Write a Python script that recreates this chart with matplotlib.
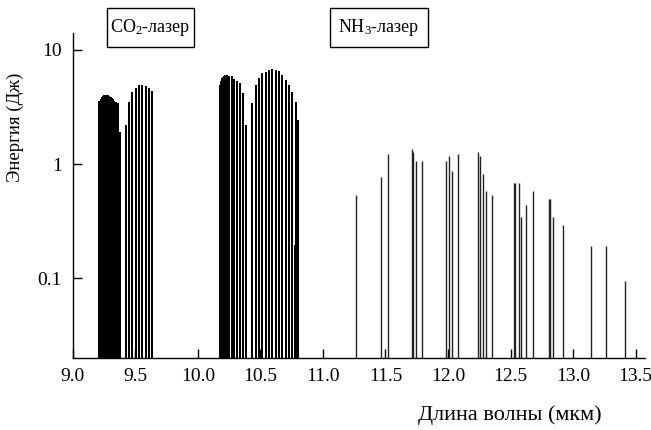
import numpy as np
import matplotlib
matplotlib.use("Agg")
import matplotlib.pyplot as plt
from matplotlib.patches import Rectangle

plt.rcParams['font.family'] = ['Liberation Serif', 'DejaVu Serif']
plt.rcParams['mathtext.fontset'] = 'custom'
plt.rcParams['mathtext.rm'] = 'Liberation Serif'
plt.rcParams['mathtext.it'] = 'Liberation Serif:italic'

# CO2 laser lines (wavelength in um, energy in J)
co2_9r_wl = [9.212, 9.222, 9.232, 9.242, 9.252, 9.262, 9.272, 9.282, 9.292,
             9.302, 9.312, 9.322, 9.332, 9.342, 9.352, 9.360, 9.376]
co2_9r_en = [3.6, 3.75, 3.85, 3.95, 4.0, 4.03, 4.03, 4.0, 3.95,
             3.9, 3.8, 3.7, 3.6, 3.5, 3.45, 3.4, 1.9]

co2_9p_wl = [9.422, 9.448, 9.474, 9.501, 9.528, 9.554, 9.581, 9.608, 9.634]
co2_9p_en = [2.2, 3.5, 4.3, 4.6, 4.9, 4.95, 4.8, 4.6, 4.4]

co2_10r_wl = [10.176, 10.184, 10.192, 10.200, 10.208, 10.216, 10.224, 10.232,
              10.250, 10.270, 10.290, 10.310, 10.336, 10.362, 10.382]
co2_10r_en = [4.9, 5.4, 5.7, 5.85, 5.95, 6.0, 6.04, 6.0,
              5.95, 5.9, 5.6, 5.3, 5.17, 4.17, 2.2]

co2_10p_wl = [10.434, 10.461, 10.488, 10.514, 10.541, 10.568, 10.594, 10.621,
              10.648, 10.674, 10.701, 10.728, 10.754, 10.781, 10.802, 10.776]
co2_10p_en = [3.4, 4.93, 5.64, 6.24, 6.44, 6.68, 6.78, 6.68,
              6.53, 6.04, 5.46, 4.93, 4.3, 3.5, 2.43, 0.195]

# NH3 laser lines
nh3_wl = [11.262, 11.461, 11.523, 11.709, 11.720, 11.747, 11.795, 11.984,
          12.006, 12.030, 12.078, 12.243, 12.253, 12.280, 12.302, 12.352,
          12.525, 12.536, 12.565, 12.587, 12.621, 12.683, 12.808, 12.818,
          12.843, 12.917, 13.144, 13.261, 13.416]
nh3_en = [0.535, 0.774, 1.22, 1.354, 1.28, 1.07, 1.07, 1.07,
          1.175, 0.874, 1.22, 1.28, 1.175, 0.817, 0.583, 0.535,
          0.686, 0.686, 0.686, 0.341, 0.434, 0.583, 0.49, 0.49,
          0.341, 0.294, 0.192, 0.192, 0.094]

x_ticks = [9.0, 9.5, 10.0, 10.5, 11.0, 11.5, 12.0, 12.5, 13.0, 13.5]
y_ticks = [0.1, 1, 10]
y_tick_labels = ['0.1', '1', '10']

y_bottom = 0.0199
y_top = 14.1

W, H = 651, 430
fig = plt.figure(figsize=(6.51, 4.30), dpi=100)
ax = fig.add_axes([0.1121, 0.1674, 0.8787, 0.7559])

# CO2 lines are thick and packed, NH3 lines thin
for wl, en in [(co2_9r_wl, co2_9r_en), (co2_9p_wl, co2_9p_en),
               (co2_10r_wl, co2_10r_en), (co2_10p_wl, co2_10p_en)]:
    ax.vlines(wl, y_bottom, en, colors='black', linewidth=1.45)
ax.vlines(nh3_wl, y_bottom, nh3_en, colors='#222222', linewidth=1.0)

ax.set_yscale('log')
ax.set_xlim(9.0, 13.576)
ax.set_ylim(y_bottom, y_top)

ax.set_xticks(x_ticks)
ax.set_xticklabels(['%.1f' % t for t in x_ticks])
ax.set_yticks(y_ticks)
ax.set_yticklabels(y_tick_labels)
ax.yaxis.set_minor_locator(matplotlib.ticker.NullLocator())
ax.tick_params(axis='both', direction='in', length=6.5, width=1.0,
               labelsize=14, pad=7)
ax.tick_params(axis='y', pad=8)

for s in ['top', 'right']:
    ax.spines[s].set_visible(False)
for s in ['left', 'bottom']:
    ax.spines[s].set_linewidth(1.0)

fig.text(15 / W, 1 - 127 / H, 'Энергия (Дж)', rotation=90, ha='center',
         va='center', fontsize=13.5)
fig.text(510 / W, 1 - 415 / H, 'Длина волны (мкм)', ha='center', va='center',
         fontsize=16)

# label boxes (pixel positions)
for (x0, x1), label in [((107, 194), 'CO$_2$-лазер'), ((330, 428), 'NH$_3$-лазер')]:
    fig.patches.append(Rectangle((x0 / W, 1 - 47 / H), (x1 - x0) / W, 39 / H,
                                 transform=fig.transFigure, fill=False,
                                 edgecolor='black', linewidth=1.0))
    fig.text((x0 + x1) / 2 / W, 1 - 28 / H, label, ha='center', va='center',
             fontsize=13)

fig.savefig('out.png', dpi=100)
